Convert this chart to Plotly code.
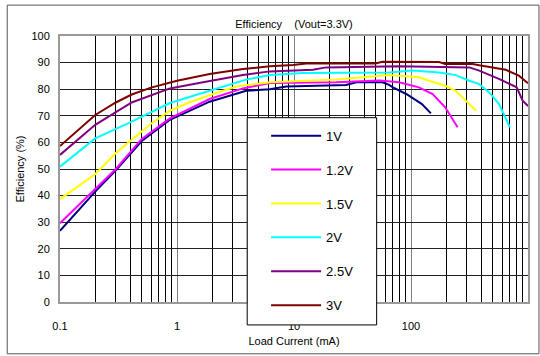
import plotly.graph_objects as go

# ---- data ----
series_names = ["1V", "1.2V", "1.5V", "2V", "2.5V", "3V"]
series_colors = ["#000080", "#FF00FF", "#FFFF00", "#00FFFF", "#800080", "#800000"]

x_1v = [0.1, 0.2, 0.3, 0.5, 0.87, 1.9, 3.9, 6.2, 8.6, 27.8, 34, 57, 65, 70, 91, 124, 148]
y_1v = [26.8, 41.5, 49.5, 60.5, 68.5, 75.3, 79.4, 80.0, 81.0, 81.6, 82.6, 82.6, 81.6, 80.7, 78.2, 74.4, 70.9]

x_12v = [0.1, 0.2, 0.3, 0.5, 0.87, 1.9, 3.66, 6.2, 23, 53.6, 79, 117, 153, 196, 250]
y_12v = [29.6, 42.5, 50.0, 61.3, 69.0, 76.3, 80.3, 82.3, 82.6, 83.3, 82.6, 80.7, 78.2, 73.2, 65.7]

x_15v = [0.1, 0.2, 0.3, 0.41, 0.6, 0.87, 1.28, 1.9, 3.2, 6.2, 23, 65, 117, 143, 196, 241, 295, 360]
y_15v = [38.7, 48.0, 56.0, 61.0, 67.0, 71.9, 75.1, 77.7, 81.0, 82.6, 83.6, 85.3, 84.5, 83.2, 81.3, 79.4, 75.7, 71.9]

x_2v = [0.1, 0.2, 0.41, 0.6, 0.87, 1.9, 3.9, 6.2, 11.9, 65, 103, 174, 241, 315, 383, 466, 566, 700]
y_2v = [50.9, 61.5, 67.8, 71.5, 74.8, 79.4, 83.6, 85.3, 86.1, 86.3, 87.0, 86.3, 85.3, 83.2, 81.9, 78.8, 74.4, 65.7]

x_25v = [0.1, 0.2, 0.41, 0.6, 0.87, 1.67, 3.66, 6.2, 14.5, 18.8, 79, 315, 383, 570, 800, 900, 1000]
y_25v = [55.3, 66.6, 75.0, 77.8, 80.3, 82.6, 85.3, 86.7, 87.3, 88.2, 88.6, 88.2, 87.0, 83.8, 80.7, 75.7, 73.7]

x_3v = [0.1, 0.2, 0.3, 0.41, 0.6, 1.0, 1.9, 3.66, 6.2, 9.8, 12.7, 50, 57, 174, 196, 336, 383, 645, 836, 1000]
y_3v = [58.6, 70.3, 75.0, 78.0, 80.6, 83.2, 85.7, 87.6, 88.6, 89.1, 89.7, 89.7, 90.3, 90.2, 89.5, 89.5, 89.0, 87.3, 85.1, 82.2]

x_tick_vals = [0.1, 1, 10, 100, 1000]
x_tick_text = ["0.1", "1", "10", "100", "1000"]
x_minor_vals = [m * d for d in [0.1, 1, 10, 100] for m in range(2, 10)]
y_tick_vals = list(range(0, 101, 10))

title_text = "Efficiency\u00a0\u00a0\u00a0\u00a0(Vout=3.3V)"
x_title = "Load Current (mA)"
y_title = "Efficiency (%)"

xs = [x_1v, x_12v, x_15v, x_2v, x_25v, x_3v]
ys = [y_1v, y_12v, y_15v, y_2v, y_25v, y_3v]

FONT = "Arial, 'Liberation Sans', sans-serif"

# plot-area geometry in pixels (used to place the paper-referenced legend box)
PL, PW, PB, PH = 60, 470, 303, 267

fig = go.Figure()
for name, color, xv, yv in zip(series_names, series_colors, xs, ys):
    fig.add_trace(go.Scatter(
        x=xv, y=yv, mode="lines", name=name, legendgroup=name,
        line=dict(color=color, width=2),
    ))

fig.update_layout(
    width=540, height=356,
    margin=dict(l=60, r=10, t=36, b=53),
    paper_bgcolor="white", plot_bgcolor="white",
    font=dict(family=FONT, size=11, color="black"),
    title=dict(text=title_text, x=0.5, xref="paper", y=1 - 24 / 356,
               yanchor="middle", xanchor="center",
               font=dict(family=FONT, size=11, color="black")),
    showlegend=True,
    legend=dict(
        x=(267 - PL) / PW, y=(PB - 121) / PH, xanchor="left", yanchor="top",
        bgcolor="rgba(0,0,0,0)", borderwidth=0,
        font=dict(family=FONT, size=13, color="black"),
        tracegroupgap=14, traceorder="grouped", itemwidth=50,
    ),
)

fig.update_xaxes(
    type="log", range=[-1, 3],
    tickvals=x_tick_vals, ticktext=x_tick_text,
    ticks="outside", ticklen=13, tickcolor="rgba(0,0,0,0)",
    showgrid=True, gridcolor="#808080", gridwidth=1,
    minor=dict(tickvals=x_minor_vals, showgrid=True, gridcolor="black", gridwidth=1, ticks=""),
    showline=True, mirror=True, linecolor="#999999", linewidth=2,
    zeroline=False,
    title=dict(text=x_title, standoff=6, font=dict(size=11)),
    tickfont=dict(size=11),
)
fig.update_yaxes(
    range=[0, 100], tickvals=y_tick_vals,
    ticks="outside", ticklen=6, tickcolor="rgba(0,0,0,0)",
    showgrid=True, gridcolor="#222222", gridwidth=1,
    showline=True, mirror=True, linecolor="#999999", linewidth=2,
    zeroline=False,
    title=dict(text=y_title, standoff=5, font=dict(size=11)),
    tickfont=dict(size=11),
)

# legend frame (white box that covers the grid, like the original)
fig.add_shape(type="rect", xref="paper", yref="paper",
              x0=(248 - PL) / PW, x1=(378 - PL) / PW,
              y0=(PB - 326) / PH, y1=(PB - 118) / PH,
              line=dict(color="black", width=1), fillcolor="white", layer="above")

# outer frame around the whole chart
fig.add_shape(type="rect", xref="paper", yref="paper",
              x0=(7 - PL) / PW, x1=(541 - PL) / PW,
              y0=(PB - 355) / PH, y1=(PB - 5) / PH,
              line=dict(color="#555555", width=1), layer="below")

fig.write_html("out.html")
